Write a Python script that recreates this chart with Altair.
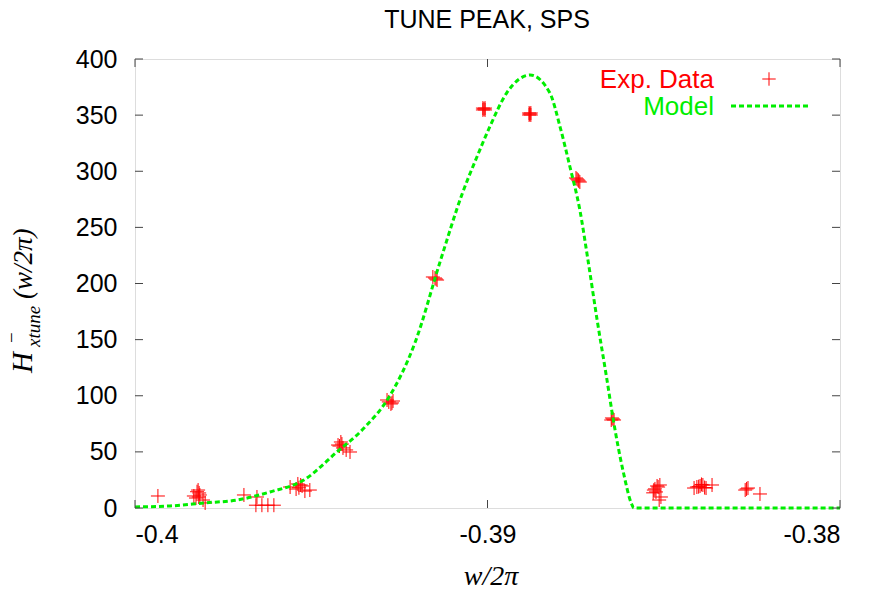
import altair as alt
import pandas as pd

# ---- data ----
exp_x = [-0.39935,
         -0.39821, -0.39816, -0.39827, -0.39807, -0.39801, -0.39818, -0.39833, -0.39824, -0.39819,
         -0.39691, -0.39654,
         -0.39657, -0.39640, -0.39623, -0.39606,
         -0.39560, -0.39543, -0.39526, -0.39518, -0.39504, -0.39538, -0.39535, -0.39530,
         -0.39424, -0.39410, -0.39401, -0.39416, -0.39390, -0.39420, -0.39413,
         -0.39285, -0.39274, -0.39268, -0.39280, -0.39271,
         -0.39149, -0.39143, -0.39155, -0.39146,
         -0.39013, -0.39007, -0.39010, -0.39013, -0.39007,
         -0.38877, -0.38882, -0.38880, -0.38877, -0.38882,
         -0.38743, -0.38738, -0.38749, -0.38741, -0.38746,
         -0.38647, -0.38641, -0.38644, -0.38649,
         -0.38528, -0.38516, -0.38511, -0.38522, -0.38508, -0.38513, -0.38525, -0.38519, -0.38530,
         -0.38406, -0.38397, -0.38389, -0.38380, -0.38363, -0.38414, -0.38401, -0.38393, -0.38384,
         -0.38269, -0.38261, -0.38265, -0.38227]
exp_y = [10.7,
         16.0, 11.6, 8.9, 7.1, 4.5, 13.4, 10.7, 14.5, 9.8,
         11.6, 9.8,
         2.5, 2.5, 2.5, 2.5,
         18.7, 16.9, 19.6, 15.1, 16.0, 21.4, 18.0, 20.5,
         56.1, 53.5, 51.7, 58.8, 49.9, 55.2, 57.0,
         96.2, 92.7, 95.3, 94.5, 93.6,
         204.9, 203.1, 205.8, 204.0,
         354.6, 356.3, 355.5, 356.3, 354.6,
         350.1, 351.9, 351.0, 351.9, 350.1,
         292.2, 290.4, 294.0, 291.3, 293.1,
         80.2, 78.4, 79.3, 78.4,
         16.0, 18.7, 20.5, 14.3, 9.8, 7.1, 17.0, 19.6, 13.5,
         18.7, 19.6, 20.5, 17.8, 20.5, 17.8, 19.0, 21.0, 18.2,
         16.0, 17.8, 17.0, 12.5]

model_x = [-0.40000, -0.39901, -0.39804, -0.39711, -0.39617, -0.39521, -0.39427,
           -0.39351, -0.39277, -0.39206, -0.39133, -0.39071, -0.39031, -0.38993,
           -0.38945, -0.38879, -0.38823, -0.38794, -0.38766, -0.38738, -0.38715,
           -0.38689, -0.38661, -0.38644, -0.38616, -0.38590, -0.38585, -0.38000]
model_y = [1.0, 1.8, 4.5, 7.1, 14.3, 24.9, 50.0,
           71.0, 100.0, 147.0, 220.9, 280.6, 312.0, 340.0,
           370.0, 385.7, 369.7, 339.4, 303.8, 265.5, 220.9,
           167.5, 114.0, 80.2, 33.9, 2.7, 0.0, 0.0]

x_ticks = [-0.4, -0.39, -0.38]
y_ticks = [0, 50, 100, 150, 200, 250, 300, 350, 400]

title_text = "TUNE PEAK, SPS"
legend_labels = ["Exp. Data", "Model"]

# ---- chart ----
W, H = 705, 449
RED = "#ff0000"
GREEN = "#00ee00"
FRAME = "#444444"
PLUS = "M-1,0L1,0M0,-1L0,1"

exp_df = pd.DataFrame({"x": exp_x, "y": exp_y})
model_df = pd.DataFrame({"x": model_x, "y": model_y})
xt_df = pd.DataFrame({"x": x_ticks})
yt_df = pd.DataFrame({"y": y_ticks})
one = alt.Data(values=[{"a": 1}])

xs = alt.Scale(domain=[-0.4, -0.38], nice=False, zero=False)
ys = alt.Scale(domain=[0, 400], nice=False, zero=False)

xaxis = alt.Axis(values=x_ticks, labelExpr="'' + datum.value", title=None,
                 grid=False, domain=False, tickSize=0, labelPadding=14,
                 labelFont="Liberation Sans", labelFontSize=25, labelColor="black")
yaxis = alt.Axis(values=y_ticks, title=None, grid=False, domain=False,
                 tickSize=0, labelPadding=18, labelFont="Liberation Sans",
                 labelFontSize=25, labelColor="black")
X = alt.X("x:Q", scale=xs, axis=xaxis)
Y = alt.Y("y:Q", scale=ys, axis=yaxis)

pts = alt.Chart(exp_df).mark_point(shape=PLUS, size=196, filled=False,
                                   color=RED, strokeWidth=1, opacity=1).encode(x=X, y=Y)
model = alt.Chart(model_df).mark_line(color=GREEN, strokeWidth=3, strokeDash=[5, 3],
                                      interpolate="monotone").encode(x=X, y=Y)

tl = alt.Chart(yt_df).mark_rule(color=FRAME, strokeWidth=1).encode(
    y=Y, x=alt.value(0), x2=alt.value(8))
tr = alt.Chart(yt_df).mark_rule(color=FRAME, strokeWidth=1).encode(
    y=Y, x=alt.value(W - 8), x2=alt.value(W))
tb = alt.Chart(xt_df).mark_rule(color=FRAME, strokeWidth=1).encode(
    x=X, y=alt.value(H - 8), y2=alt.value(H))
tt = alt.Chart(xt_df).mark_rule(color=FRAME, strokeWidth=1).encode(
    x=X, y=alt.value(0), y2=alt.value(8))

title = alt.Chart(one).mark_text(text=title_text, font="Liberation Sans", fontSize=25,
                                 align="center", baseline="alphabetic", color="black").encode(
    x=alt.value(352), y=alt.value(-31))
xtitle = alt.Chart(one).mark_text(text="w/2π", font="Liberation Serif", fontStyle="italic",
                                  fontSize=28, align="center", baseline="alphabetic",
                                  color="black").encode(x=alt.value(356), y=alt.value(526))
yt_H = alt.Chart(one).mark_text(text="H", font="Liberation Serif", fontStyle="italic",
                                fontSize=29, angle=270, align="left", baseline="alphabetic",
                                color="black").encode(x=alt.value(-103), y=alt.value(314))
yt_sub = alt.Chart(one).mark_text(text="xtune", font="Liberation Serif", fontStyle="italic",
                                  fontSize=19, angle=270, align="left", baseline="alphabetic",
                                  color="black").encode(x=alt.value(-95), y=alt.value(288))
yt_sup = alt.Chart(one).mark_text(text="−", font="Liberation Serif",
                                  fontSize=19, angle=270, align="left", baseline="alphabetic",
                                  color="black").encode(x=alt.value(-117), y=alt.value(284))
yt_arg = alt.Chart(one).mark_text(text="(w/2π)", font="Liberation Serif", fontStyle="italic",
                                  fontSize=27, angle=270, align="left", baseline="alphabetic",
                                  color="black").encode(x=alt.value(-103), y=alt.value(240))

leg1 = alt.Chart(one).mark_text(text=legend_labels[0], font="Liberation Sans", fontSize=26,
                                align="right", baseline="alphabetic", color=RED).encode(
    x=alt.value(579), y=alt.value(29))
leg1m = alt.Chart(one).mark_point(shape=PLUS, size=180, filled=False, color=RED,
                                  strokeWidth=1, opacity=1).encode(x=alt.value(634), y=alt.value(20))
leg2 = alt.Chart(one).mark_text(text=legend_labels[1], font="Liberation Sans", fontSize=26,
                                align="right", baseline="alphabetic", color=GREEN).encode(
    x=alt.value(579), y=alt.value(56))
leg2l = alt.Chart(one).mark_rule(color=GREEN, strokeWidth=3, strokeDash=[5, 3]).encode(
    x=alt.value(596), x2=alt.value(673), y=alt.value(47))

chart = alt.layer(pts, model, tl, tr, tb, tt, title, xtitle, yt_H, yt_sub, yt_sup, yt_arg,
                  leg1, leg1m, leg2, leg2l).properties(
    width=W, height=H,
    autosize=alt.AutoSizeParams(type="none"),
    padding={"left": 127, "top": 51, "right": 15, "bottom": 79},
).configure_view(stroke=FRAME, strokeWidth=1).configure(background="white")

chart.save("out.html", embed_options={"renderer": "svg", "actions": False})
